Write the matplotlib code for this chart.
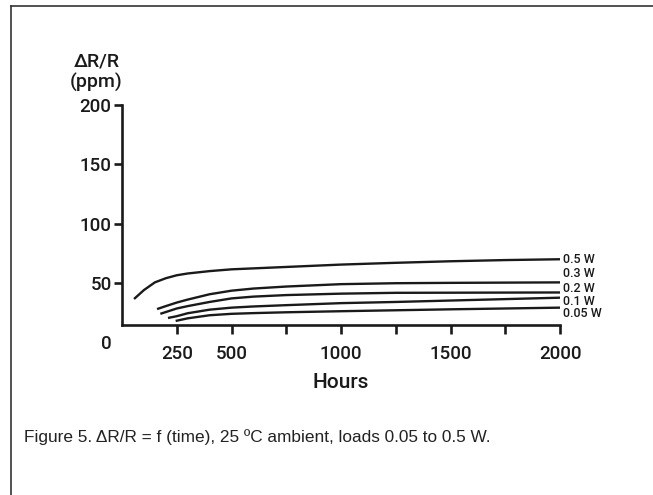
import matplotlib
matplotlib.use("Agg")
import matplotlib.pyplot as plt
from matplotlib.lines import Line2D

# ---- data ----
hours_05 = [55, 100, 150, 200, 250, 300, 400, 500, 750, 1000, 1250, 1500, 1750, 2000]
ppm_05 = [36.5, 44, 50.5, 54, 56.5, 58, 60, 61.5, 63.5, 65.5, 67, 68.3, 69.3, 70]

hours_03 = [160, 200, 250, 300, 400, 500, 600, 750, 1000, 1250, 1500, 1750, 2000]
ppm_03 = [28, 30.5, 33.5, 36, 40.5, 43.5, 45.3, 47, 49, 49.8, 50.1, 50.3, 50.5]

hours_02 = [175, 200, 250, 300, 400, 500, 600, 750, 1000, 1250, 1500, 2000]
ppm_02 = [24, 25.5, 28.5, 30.5, 34, 37, 38.5, 39.8, 41, 41.7, 41.8, 42]

hours_01 = [210, 250, 300, 400, 500, 600, 750, 1000, 1250, 1500, 1750, 2000]
ppm_01 = [20.5, 22, 24.5, 27.5, 29.2, 30.2, 31.3, 33, 34, 35.2, 36.4, 37.6]

hours_005 = [245, 300, 400, 500, 600, 750, 1000, 1250, 1500, 1750, 2000]
ppm_005 = [18, 20.2, 22.8, 24, 24.6, 25.3, 26.2, 27, 27.8, 28.5, 29.2]

series_labels = ["0.5 W", "0.3 W", "0.2 W", "0.1 W", "0.05 W"]
x_ticks = [250, 500, 750, 1000, 1250, 1500, 1750, 2000]
x_ticklabels = ["250", "500", "", "1000", "", "1500", "", "2000"]
y_ticks = [0, 50, 100, 150, 200]
y_ticklabels = ["0", "50", "100", "150", "200"]
caption = "Figure 5. \u0394R/R = f (time), 25 \u00baC ambient, loads 0.05 to 0.5 W."

# ---- figure ----
W, H = 653, 495
fig = plt.figure(figsize=(W / 100, H / 100), dpi=100)
narrow = ["Roboto", "DejaVu Sans"]
regular = ["Liberation Sans", "DejaVu Sans"]
ink = "#1a1a1a"
wt = "medium"

def fx(px):
    return px / W

def fy(py):
    return 1 - py / H

ax_left, ax_right = 122, 560
ax_top, ax_bottom = 105, 342.3
ax = fig.add_axes([fx(ax_left), fy(ax_bottom), fx(ax_right - ax_left), (ax_bottom - ax_top) / H])
ax.set_xlim(0, 2000)
ax.set_ylim(0, 200)

lw_axis = 1.9
for s in ["top", "right"]:
    ax.spines[s].set_visible(False)
ax.spines["bottom"].set_position(("data", 15))
ax.spines["bottom"].set_bounds(0, 2000)
ax.spines["left"].set_bounds(15, 200)
for s in ["bottom", "left"]:
    ax.spines[s].set_linewidth(lw_axis)
    ax.spines[s].set_capstyle("projecting")
    ax.spines[s].set_color(ink)

ax.set_xticks(x_ticks)
ax.set_xticklabels(x_ticklabels, fontfamily=narrow, fontsize=13.5, color=ink, fontweight=wt)
ax.set_yticks(y_ticks)
ax.set_yticklabels(y_ticklabels, fontfamily=narrow, fontsize=13.5, color=ink, fontweight=wt)
ax.tick_params(axis="x", direction="out", length=6.5, width=lw_axis, pad=8, color=ink)
ax.tick_params(axis="y", direction="out", length=5.5, width=lw_axis, pad=2, color=ink)
ax.yaxis.get_major_ticks()[0].tick1line.set_visible(False)

series = [(hours_05, ppm_05), (hours_03, ppm_03), (hours_02, ppm_02),
          (hours_01, ppm_01), (hours_005, ppm_005)]
label_offsets = [0, 9, 4, -3.5, -6]
for (hx, py), lab, off in zip(series, series_labels, label_offsets):
    ax.plot(hx, py, color=ink, lw=1.7, solid_capstyle="butt")
    ax.annotate(lab, xy=(hx[-1], py[-1]), xytext=(3, off), textcoords="offset pixels",
                ha="left", va="center", fontfamily=narrow, fontsize=9.0,
                color=ink, fontweight=wt, annotation_clip=False)

fig.text(fx(97), fy(62), "\u0394R/R", ha="center", va="center",
         fontfamily=narrow, fontsize=14, color=ink, fontweight=wt)
fig.text(fx(96), fy(82), "(ppm)", ha="center", va="center",
         fontfamily=narrow, fontsize=14, color=ink, fontweight=wt)
fig.text(fx(341), fy(382), "Hours", ha="center", va="center",
         fontfamily=narrow, fontsize=15, color=ink, fontweight=wt)

fig.text(fx(24), fy(437), caption, ha="left", va="center",
         fontfamily=regular, fontsize=12.4, color="#222222")

# frame lines (top and left)
fig.add_artist(Line2D([fx(11), fx(11)], [0, fy(6)], color="#333333", lw=1.2))
fig.add_artist(Line2D([fx(11), 1], [fy(6), fy(6)], color="#333333", lw=1.2))

fig.savefig("out.png", dpi=100)
